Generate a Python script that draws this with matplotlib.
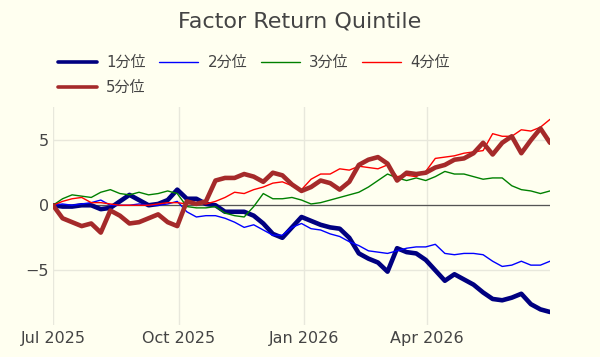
import numpy as np
import pandas as pd
import matplotlib
matplotlib.use("Agg")
import matplotlib.pyplot as plt
import matplotlib.dates as mdates

plt.rcParams['font.family'] = ['DejaVu Sans', 'Noto Sans CJK JP']

# weekly observations, 2025-07-01 .. 2026-06-30
dates = pd.date_range("2025-07-01", periods=53, freq="7D")

q1 = [0.0, -0.1, -0.1, 0.0, 0.0, -0.3, -0.2, 0.3, 0.8, 0.4,
      0.0, 0.1, 0.4, 1.2, 0.5, 0.5, 0.1, 0.0, -0.5, -0.5,
      -0.5, -0.8, -1.4, -2.2, -2.5, -1.7, -0.9, -1.2, -1.5, -1.7,
      -1.8, -2.5, -3.7, -4.1, -4.4, -5.1, -3.3, -3.6, -3.7, -4.2,
      -5.0, -5.8, -5.3, -5.7, -6.1, -6.7, -7.2, -7.3, -7.1, -6.8,
      -7.6, -8.0, -8.2]
q2 = [0.0, 0.1, 0.0, 0.1, 0.2, 0.4, 0.0, 0.0, 0.0, 0.1,
      0.0, 0.0, 0.1, 0.3, -0.5, -0.9, -0.8, -0.8, -1.0, -1.3,
      -1.7, -1.5, -1.9, -2.3, -2.3, -1.7, -1.4, -1.8, -1.9, -2.2,
      -2.4, -2.8, -3.1, -3.5, -3.6, -3.7, -3.5, -3.3, -3.2, -3.2,
      -3.0, -3.7, -3.8, -3.7, -3.7, -3.8, -4.3, -4.7, -4.6, -4.3,
      -4.6, -4.6, -4.3]
q3 = [0.0, 0.5, 0.8, 0.7, 0.6, 1.0, 1.2, 0.9, 0.8, 1.0,
      0.8, 0.9, 1.1, 0.9, -0.1, -0.2, -0.2, -0.1, -0.6, -0.8,
      -0.9, -0.1, 0.9, 0.5, 0.5, 0.6, 0.4, 0.1, 0.2, 0.4,
      0.6, 0.8, 1.0, 1.4, 1.9, 2.4, 2.1, 1.9, 2.1, 1.9,
      2.2, 2.6, 2.4, 2.4, 2.2, 2.0, 2.1, 2.1, 1.5, 1.2,
      1.1, 0.9, 1.1]
q4 = [0.0, 0.3, 0.5, 0.6, 0.2, 0.2, 0.1, 0.0, 0.0, 0.0,
      0.0, 0.1, 0.2, 0.2, 0.1, 0.2, 0.1, 0.3, 0.6, 1.0,
      0.9, 1.2, 1.4, 1.7, 1.8, 1.5, 1.2, 2.0, 2.4, 2.4,
      2.8, 2.7, 3.0, 2.9, 2.8, 3.1, 2.2, 2.3, 2.2, 2.6,
      3.6, 3.7, 3.8, 4.0, 4.1, 4.2, 5.5, 5.3, 5.3, 5.8,
      5.7, 6.0, 6.6]
q5 = [0.0, -1.0, -1.3, -1.6, -1.4, -2.1, -0.4, -0.8, -1.4, -1.3,
      -1.0, -0.7, -1.3, -1.6, 0.3, 0.1, 0.3, 1.9, 2.1, 2.1,
      2.4, 2.2, 1.8, 2.5, 2.3, 1.6, 1.1, 1.4, 1.9, 1.7,
      1.2, 1.8, 3.1, 3.5, 3.7, 3.2, 1.9, 2.5, 2.4, 2.5,
      2.9, 3.1, 3.5, 3.6, 4.0, 4.8, 3.9, 4.8, 5.3, 4.0,
      5.0, 5.9, 4.8]

labels = ["1分位", "2分位", "3分位", "4分位", "5分位"]
series = [q1, q2, q3, q4, q5]
colors = ["#000080", "#0000ff", "#008000", "#ff0000", "#a52a2a"]
widths = [3.3, 1.0, 1.0, 1.0, 3.3]

bg = "#fffff0"
txt = "#444444"
fig = plt.figure(figsize=(6, 3.57), dpi=100, facecolor=bg)
ax = fig.add_axes([53/600, 1 - 325/357, (550-53)/600, (325-107)/357])
ax.set_facecolor(bg)

lines = []
for vals, lab, c, w in zip(series, labels, colors, widths):
    ln, = ax.plot(dates, vals, color=c, lw=w, label=lab,
                  solid_joinstyle='round', solid_capstyle='round', zorder=3)
    lines.append(ln)

ax.axhline(0, color="#555555", lw=0.9, zorder=2)

ax.set_xlim(dates[0], dates[-1])
ax.set_ylim(-9.2, 7.55)
ax.set_yticks([-5, 0, 5])
ax.xaxis.set_major_locator(mdates.MonthLocator(bymonth=[1, 4, 7, 10]))
ax.xaxis.set_major_formatter(mdates.DateFormatter("%b %Y"))
ax.grid(True, color="#e8e8dc", lw=1.0, zorder=0)
for s in ax.spines.values():
    s.set_visible(False)
ax.tick_params(length=0, colors=txt, labelsize=11.5)
ax.tick_params(axis='y', pad=3)
ax.tick_params(axis='x', pad=4)

fig.text(0.5, 1 - 21/357, "Factor Return Quintile", ha="center", va="center",
         fontsize=16, color=txt)

order = [0, 4, 1, 2, 3]
leg = fig.legend([lines[i] for i in order], [labels[i] for i in order],
                 loc="upper left", bbox_to_anchor=(58/600, 1 - 55/357),
                 ncol=4, frameon=False, fontsize=10.8, handlelength=2.6,
                 handletextpad=0.6, columnspacing=0.93, labelspacing=0.68,
                 borderpad=0, borderaxespad=0)
for t in leg.get_texts():
    t.set_color(txt)
for h in leg.legend_handles:
    h.set_linewidth(min(h.get_linewidth(), 2.6))

fig.savefig("out.png", dpi=100, facecolor=bg)
